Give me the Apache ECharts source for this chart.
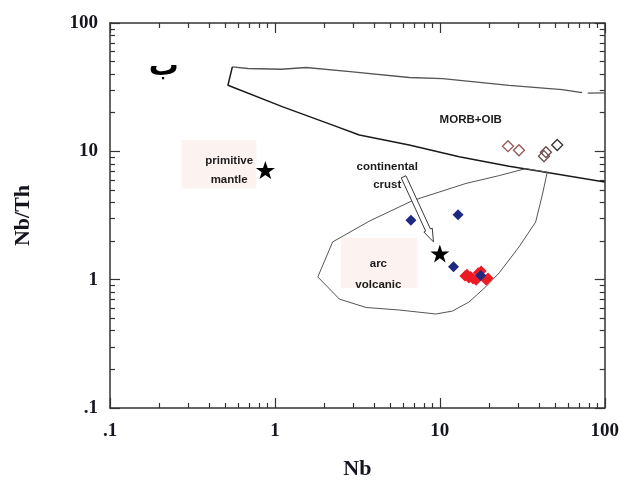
<!DOCTYPE html>
<html>
<head>
<meta charset="utf-8">
<script src="https://cdn.jsdelivr.net/npm/echarts@6/dist/echarts.min.js"></script>
<style>
  html, body { margin: 0; padding: 0; background: #ffffff; }
  #chart { width: 622px; height: 486px; }
</style>
</head>
<body>
<div id="chart"></div>
<script>
// Nb versus Nb/Th discrimination diagram (log-log)

const axisMin = 0.1;
const axisMax = 100;

// Field boundaries, points given as [Nb, Nb/Th]
const morbOibUpper = [
  [0.552, 45.5], [0.686, 44.2], [1.093, 43.6], [1.117, 45.0], [1.548, 45.0],
  [2.96, 41.6], [6.52, 37.6], [10.4, 36.9], [26.3, 32.7], [55.2, 30.3], [72.9, 28.7]
];
const morbOibUpperTail = [[78.9, 28.4], [100, 28.5]];
const morbOibLower = [
  [0.552, 45.5], [0.519, 32.7], [1.117, 22.2], [2.24, 16.0], [3.25, 13.4],
  [6.52, 11.2], [13.1, 9.06], [26.3, 7.66], [45.8, 6.80], [100, 5.78]
];
const arcVolcanicField = [
  [1.82, 1.05], [2.24, 1.97], [3.74, 2.86], [6.83, 4.13], [14.4, 5.62],
  [22.9, 6.47], [33.1, 7.33], [44.8, 6.88], [41.8, 4.56], [38.1, 2.81],
  [30.2, 1.80], [22.9, 1.13], [19.0, 0.88], [15.0, 0.669], [11.9, 0.569],
  [9.46, 0.540], [5.68, 0.580], [3.57, 0.607], [2.46, 0.706], [1.82, 1.05]
];

// Reference compositions
const primitiveMantle = [[0.875, 7.14]];
const continentalCrust = [[10.0, 1.60]];

// Samples
const blueSamples = [[6.68, 2.91], [12.9, 3.20], [12.1, 1.26], [17.7, 1.08]];
const redSamples = [
  [14.2, 1.07], [14.6, 1.10], [15.0, 1.03], [15.4, 1.06], [15.9, 1.01], [16.6, 0.99],
  [17.1, 1.13], [17.8, 1.17], [19.1, 0.99], [19.6, 1.03]
];
const openSamplesBrown = [[25.9, 10.97], [30.2, 10.2]];
const openSamplesDark = [[42.8, 9.17], [44.0, 9.85]];
const openSamplesGrey = [[51.5, 11.2]];

// Arrow pointing from the "continental crust" caption to its star
const crustArrow = [[6.03, 6.33], [9.15, 1.97]];

// Pale panels behind two captions: [Nb left, Nb/Th top, Nb right, Nb/Th bottom]
const captionPanels = [
  [0.2716, 12.22, 0.7716, 5.14],
  [2.52, 2.11, 7.32, 0.860]
];

// Captions placed in data space (anchor = centre of the text block)
const captions = [
  { text: 'primitive\nmantle', at: [0.528, 7.07], lineHeight: 19 },
  { text: 'continental\ncrust', at: [4.80, 6.41], lineHeight: 18 },
  { text: 'arc\nvolcanic', at: [4.24, 1.10], lineHeight: 21 },
  { text: 'MORB+OIB', at: [15.4, 17.5], lineHeight: 14 }
];
const panelMark = { text: '\u0628', at: [0.212, 45.2] };

const starPath = 'path://M50,0 L61.8,35.1 L98.1,35.1 L68.8,56.8 L79.4,91 L50,70 L20.6,91 L31.2,56.8 L1.9,35.1 L38.2,35.1 Z';

const serif = 'Liberation Serif';
const sans = 'Liberation Sans';

function tickLabel(v) {
  return v < 1 ? '.1' : String(Math.round(v));
}

function logAxis(extra) {
  return Object.assign({
    type: 'log',
    logBase: 10,
    min: axisMin,
    max: axisMax,
    interval: 1,
    splitLine: { show: false },
    axisLine: { show: true, onZero: false, lineStyle: { color: '#333', width: 1.5 } },
    axisTick: { show: true, inside: true, length: 10, lineStyle: { color: '#333', width: 1.2 } },
    minorTick: { show: true, splitNumber: 9, length: 5, lineStyle: { color: '#333', width: 1.2 } },
    minorSplitLine: { show: false }
  }, extra);
}

const boundaryLine = (data, color, width) => ({
  type: 'line',
  data: data,
  showSymbol: false,
  symbol: 'none',
  silent: true,
  lineStyle: { color: color, width: width },
  z: 2
});

const openDiamonds = (data, color) => ({
  type: 'scatter',
  data: data,
  symbol: 'diamond',
  symbolSize: 11,
  itemStyle: { color: 'rgba(0,0,0,0)', borderColor: color, borderWidth: 1.3, opacity: 1 },
  z: 5
});

const chart = echarts.init(document.getElementById('chart'), null, { renderer: 'canvas' });

chart.setOption({
  animation: false,
  backgroundColor: '#ffffff',
  grid: { left: 110, right: 16, top: 23, bottom: 78, containLabel: false },
  xAxis: [
    logAxis({
      position: 'bottom',
      name: 'Nb',
      nameLocation: 'middle',
      nameGap: 50,
      nameTextStyle: { fontFamily: serif, fontWeight: 'bold', fontSize: 22, color: '#151520' },
      axisLabel: { formatter: tickLabel, margin: 14, fontFamily: serif, fontWeight: 'bold', fontSize: 19, color: '#151520' }
    }),
    logAxis({ position: 'top', axisLabel: { show: false } })
  ],
  yAxis: [
    logAxis({
      position: 'left',
      name: 'Nb/Th',
      nameLocation: 'middle',
      nameGap: 76,
      nameTextStyle: { fontFamily: serif, fontWeight: 'bold', fontSize: 22, color: '#151520' },
      axisLabel: { formatter: tickLabel, margin: 12, fontFamily: serif, fontWeight: 'bold', fontSize: 19, color: '#151520' }
    }),
    logAxis({ position: 'right', axisLabel: { show: false } })
  ],
  series: [
    {
      // pale caption panels
      type: 'custom',
      data: captionPanels,
      clip: false,
      silent: true,
      z: 1,
      renderItem: function (params, api) {
        const p0 = api.coord([api.value(0), api.value(1)]);
        const p1 = api.coord([api.value(2), api.value(3)]);
        return {
          type: 'rect',
          shape: { x: p0[0], y: p0[1], width: p1[0] - p0[0], height: p1[1] - p0[1] },
          style: { fill: '#fcf2ef' }
        };
      }
    },
    boundaryLine(morbOibUpper, '#555', 1.3),
    boundaryLine(morbOibUpperTail, '#555', 1.3),
    boundaryLine(morbOibLower, '#1a1a1a', 1.5),
    boundaryLine(arcVolcanicField, '#555', 1),
    {
      type: 'custom',
      data: captions.map((c, i) => [c.at[0], c.at[1], i]),
      clip: false,
      silent: true,
      z: 3,
      renderItem: function (params, api) {
        const c = captions[params.dataIndex];
        const p = api.coord([api.value(0), api.value(1)]);
        return {
          type: 'text', x: p[0], y: p[1],
          style: {
            text: c.text,
            fill: '#1c1c1c',
            font: 'bold 11.5px ' + sans,
            align: 'center',
            verticalAlign: 'middle',
            lineHeight: c.lineHeight
          }
        };
      }
    },
    {
      type: 'custom',
      data: [[panelMark.at[0], panelMark.at[1]]],
      clip: false,
      silent: true,
      renderItem: function (params, api) {
        const p = api.coord([api.value(0), api.value(1)]);
        return {
          type: 'text', x: p[0], y: p[1],
          style: { text: panelMark.text, fill: '#000', font: 'bold 30px DejaVu Sans', align: 'center', verticalAlign: 'middle' }
        };
      }
    },
    {
      // hollow arrow
      type: 'custom',
      data: [[crustArrow[0][0], crustArrow[0][1], crustArrow[1][0], crustArrow[1][1]]],
      clip: false,
      silent: true,
      z: 4,
      renderItem: function (params, api) {
        const a = api.coord([api.value(0), api.value(1)]);
        const b = api.coord([api.value(2), api.value(3)]);
        const dx = b[0] - a[0], dy = b[1] - a[1];
        const len = Math.sqrt(dx * dx + dy * dy);
        const ux = dx / len, uy = dy / len;
        const nx = -uy, ny = ux;
        const shaft = 2.6, head = 4.6, headLen = 13;
        const hb = [b[0] - ux * headLen, b[1] - uy * headLen];
        const pts = [
          [a[0] + nx * shaft, a[1] + ny * shaft],
          [hb[0] + nx * shaft, hb[1] + ny * shaft],
          [hb[0] + nx * head, hb[1] + ny * head],
          [b[0], b[1]],
          [hb[0] - nx * head, hb[1] - ny * head],
          [hb[0] - nx * shaft, hb[1] - ny * shaft],
          [a[0] - nx * shaft, a[1] - ny * shaft]
        ];
        return {
          type: 'polygon',
          shape: { points: pts },
          style: { fill: '#ffffff', stroke: '#3a3a3a', lineWidth: 1 }
        };
      }
    },
    {
      type: 'scatter',
      data: redSamples,
      symbol: 'diamond',
      symbolSize: 11,
      itemStyle: { color: '#ec1c24', opacity: 1 },
      z: 5
    },
    {
      type: 'scatter',
      data: blueSamples,
      symbol: 'diamond',
      symbolSize: 11,
      itemStyle: { color: '#1e2a82', opacity: 1 },
      z: 6
    },
    openDiamonds(openSamplesBrown, '#9a5656'),
    openDiamonds(openSamplesDark, '#6a4646'),
    openDiamonds(openSamplesGrey, '#333333'),
    {
      type: 'scatter',
      data: primitiveMantle.concat(continentalCrust),
      symbol: starPath,
      symbolKeepAspect: true,
      symbolSize: 19,
      itemStyle: { color: '#000000', opacity: 1 },
      z: 7
    }
  ]
});
</script>
</body>
</html>
